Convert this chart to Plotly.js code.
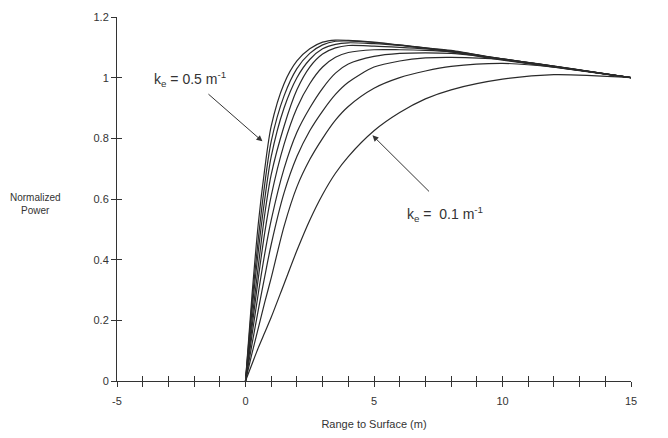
<!DOCTYPE html>
<html>
<head>
<meta charset="utf-8">
<script src="https://cdn.plot.ly/plotly-3.0.1.min.js"></script>
<style>html,body{margin:0;padding:0;background:#fff;}#chart{width:668px;height:438px;}</style>
</head>
<body>
<div id="chart"></div>
<script>
// Range to surface (m)
const rangeM = [0, 0.25, 0.5, 0.75, 1, 1.5, 2, 2.5, 3, 3.5, 4, 5, 6, 7, 8, 10, 12, 15];
// Normalized power, one series per extinction coefficient k_e (m^-1)
const ke010 = [0, 0.055, 0.11, 0.16, 0.21, 0.32, 0.43, 0.53, 0.615, 0.685, 0.74, 0.825, 0.885, 0.93, 0.96, 0.995, 1.01, 1.0];
const ke015 = [0, 0.09, 0.175, 0.26, 0.34, 0.51, 0.64, 0.73, 0.80, 0.86, 0.905, 0.965, 1.0, 1.022, 1.037, 1.047, 1.035, 1.0];
const ke020 = [0, 0.12, 0.235, 0.345, 0.45, 0.62, 0.74, 0.825, 0.89, 0.945, 0.985, 1.035, 1.055, 1.065, 1.067, 1.06, 1.038, 1.0];
const ke025 = [0, 0.15, 0.29, 0.42, 0.53, 0.70, 0.82, 0.90, 0.965, 1.015, 1.045, 1.07, 1.08, 1.082, 1.08, 1.062, 1.038, 1.0];
const ke030 = [0, 0.175, 0.34, 0.49, 0.61, 0.78, 0.90, 0.98, 1.035, 1.067, 1.083, 1.092, 1.092, 1.09, 1.085, 1.062, 1.037, 1.0];
const ke035 = [0, 0.20, 0.38, 0.55, 0.68, 0.84, 0.96, 1.035, 1.078, 1.098, 1.106, 1.104, 1.10, 1.095, 1.088, 1.062, 1.037, 1.0];
const ke040 = [0, 0.23, 0.43, 0.60, 0.74, 0.90, 1.00, 1.06, 1.095, 1.11, 1.115, 1.112, 1.106, 1.098, 1.09, 1.06, 1.036, 1.0];
const ke045 = [0, 0.255, 0.47, 0.65, 0.79, 0.94, 1.03, 1.08, 1.108, 1.12, 1.121, 1.116, 1.108, 1.098, 1.087, 1.06, 1.036, 1.0];
const ke050 = [0, 0.28, 0.52, 0.70, 0.84, 0.98, 1.055, 1.095, 1.117, 1.124, 1.123, 1.117, 1.107, 1.097, 1.085, 1.058, 1.035, 1.0];
const series = [ke010, ke015, ke020, ke025, ke030, ke035, ke040, ke045, ke050];

const xTickVals = [-5, 0, 5, 10, 15];
const xTickText = ['-5', '0', '5', '10', '15'];
const yTickVals = [0, 0.2, 0.4, 0.6, 0.8, 1, 1.2];
const yTickText = ['0', '0.2', '0.4', '0.6', '0.8', '1', '1.2'];

const lineColor = '#2a2a2a';
const traces = series.map(s => ({
  x: rangeM, y: s, type: 'scatter', mode: 'lines',
  line: {color: lineColor, width: 1.2, shape: 'spline', smoothing: 0.8},
  hoverinfo: 'skip', showlegend: false
}));
// dummy trace for overlay axes (inside ticks, so ticks cross axis lines)
traces.push({x: [-5], y: [0], xaxis: 'x2', yaxis: 'y2', mode: 'markers', marker: {opacity: 0}, showlegend: false, hoverinfo: 'skip'});

const font = {family: 'Liberation Sans, Arial, sans-serif', size: 11, color: '#333'};
const baseX = {range: [-5, 15], showgrid: false, zeroline: false, showline: true, linecolor: '#333', linewidth: 1, fixedrange: true};
const baseY = {range: [0, 1.2], showgrid: false, zeroline: false, showline: true, linecolor: '#333', linewidth: 1, fixedrange: true};

const layout = {
  width: 668, height: 438,
  margin: {l: 117, r: 37, t: 17, b: 57},
  paper_bgcolor: '#ffffff', plot_bgcolor: '#ffffff',
  font: font,
  showlegend: false,
  xaxis: Object.assign({}, baseX, {
    tickmode: 'array', tickvals: xTickVals, ticktext: xTickText,
    ticks: 'outside', ticklen: 5, tickcolor: '#333', ticklabelstandoff: 5,
    minor: {dtick: 1, ticks: 'outside', ticklen: 5, tickcolor: '#333'},
    title: {text: 'Range to Surface (m)', font: {family: font.family, size: 11, color: '#333'}, standoff: 14}
  }),
  yaxis: Object.assign({}, baseY, {
    tickmode: 'array', tickvals: yTickVals, ticktext: yTickText,
    ticks: 'outside', ticklen: 5, tickcolor: '#333'
  }),
  xaxis2: Object.assign({}, baseX, {overlaying: 'x', anchor: 'y2', showticklabels: false, tickmode: 'array', tickvals: xTickVals,
    ticks: 'inside', ticklen: 5, tickcolor: '#333',
    minor: {dtick: 1, ticks: 'inside', ticklen: 5, tickcolor: '#333'}}),
  yaxis2: Object.assign({}, baseY, {overlaying: 'y', anchor: 'x2', showticklabels: false, tickmode: 'array', tickvals: yTickVals,
    ticks: 'inside', ticklen: 5, tickcolor: '#333'}),
  annotations: [
    {xref: 'paper', yref: 'paper', x: -0.158, y: 0.485, xanchor: 'center', yanchor: 'middle', text: 'Normalized<br>Power', showarrow: false,
     font: {family: font.family, size: 10, color: '#333'}, align: 'center'},
    {xref: 'x', yref: 'y', x: -2.15, y: 0.995, xanchor: 'center', text: 'k<sub>e</sub> = 0.5 m<sup>-1</sup>', showarrow: false,
     font: {family: font.family, size: 14, color: '#333'}},
    {xref: 'x', yref: 'y', x: 0.66, y: 0.79, axref: 'x', ayref: 'y', ax: -1.5, ay: 0.95, text: '',
     showarrow: true, arrowhead: 2, arrowsize: 1.2, arrowwidth: 1, arrowcolor: '#333'},
    {xref: 'x', yref: 'y', x: 7.75, y: 0.55, xanchor: 'center', text: 'k<sub>e</sub> =  0.1 m<sup>-1</sup>', showarrow: false,
     font: {family: font.family, size: 14, color: '#333'}},
    {xref: 'x', yref: 'y', x: 4.94, y: 0.81, axref: 'x', ayref: 'y', ax: 7.2, ay: 0.62, text: '',
     showarrow: true, arrowhead: 2, arrowsize: 1.2, arrowwidth: 1, arrowcolor: '#333'}
  ]
};

Plotly.newPlot('chart', traces, layout, {displayModeBar: false, staticPlot: true});
</script>
</body>
</html>
